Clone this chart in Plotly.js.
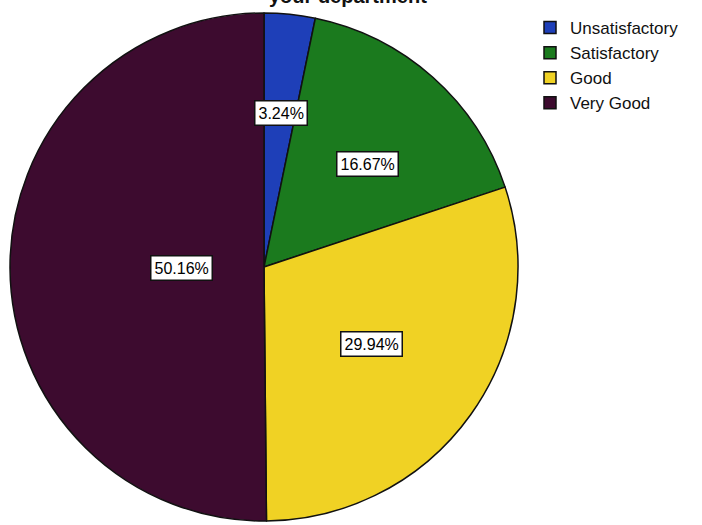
<!DOCTYPE html>
<html>
<head>
<meta charset="utf-8">
<script src="https://cdn.plot.ly/plotly-3.0.1.min.js"></script>
<style>html,body{margin:0;padding:0;background:#fff;}</style>
</head>
<body>
<div id="chart" style="width:702px;height:525px;"></div>
<script>
const categories = ["Unsatisfactory", "Satisfactory", "Good", "Very Good"];
const percents = [3.24, 16.67, 29.94, 50.16];
const colors = ["#1e3fb8", "#1b7a1e", "#f0d224", "#3d0b2f"];
const titleText = "your department";

const W = 702, H = 525;
const cx = 264, cy = 267, R = 254;
const labelRadius = [0.66, 0.61, 0.52, 0.45];

const domX = [(cx - R) / W, (cx + R) / W];
const domY = [1 - (cy + R) / H, 1 - (cy - R) / H];

const total = percents.reduce((a, b) => a + b, 0);
let cum = 0;
const annotations = percents.map((v, i) => {
  const mid = (cum + v / 2) / total * 2 * Math.PI;
  cum += v;
  const r = R * labelRadius[i];
  const px = cx + r * Math.sin(mid);
  const py = cy - r * Math.cos(mid);
  return {
    x: px / W, y: 1 - py / H, xref: "paper", yref: "paper",
    text: v.toFixed(2) + "%", showarrow: false,
    font: {family: "Arial, Liberation Sans, sans-serif", size: 16, color: "#000"},
    bgcolor: "#ffffff", bordercolor: "#111", borderwidth: 1.5, borderpad: 3
  };
});
annotations.push({
  x: 348 / W, y: 1 + 4 / H, xref: "paper", yref: "paper", yanchor: "middle",
  text: "<b>" + titleText + "</b>", showarrow: false,
  font: {family: "Arial, Liberation Sans, sans-serif", size: 20, color: "#111"}
});

const trace = {
  type: "pie",
  labels: categories,
  values: percents,
  sort: false,
  direction: "clockwise",
  rotation: 0,
  marker: {colors: colors, line: {color: "#111", width: 1.5}},
  textinfo: "none",
  hoverinfo: "label+percent",
  domain: {x: domX, y: domY}
};

const layout = {
  width: W, height: H,
  margin: {l: 0, r: 0, t: 0, b: 0},
  paper_bgcolor: "#ffffff",
  showlegend: true,
  legend: {
    x: 530 / W, y: 1 - 10 / H, xanchor: "left", yanchor: "top",
    font: {family: "Arial, Liberation Sans, sans-serif", size: 17, color: "#111"},
    tracegroupgap: 0, itemwidth: 30
  },
  annotations: annotations
};

Plotly.newPlot("chart", [trace], layout, {displayModeBar: false, staticPlot: true});
</script>
</body>
</html>
